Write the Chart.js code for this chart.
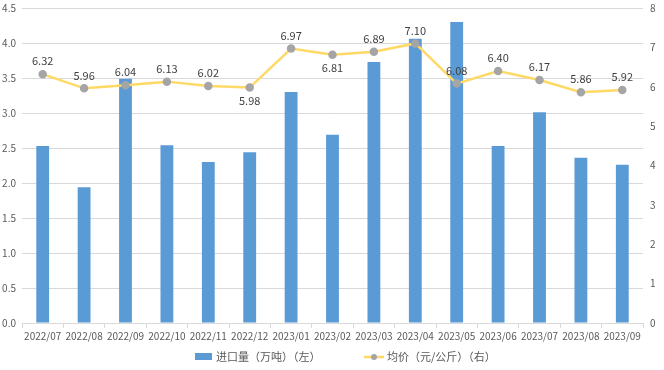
<!DOCTYPE html>
<html>
<head>
<meta charset="utf-8">
<script src="https://cdn.jsdelivr.net/npm/chart.js@4"></script>
<style>
  html, body { margin: 0; padding: 0; background: #fff; }
  #box { width: 664px; height: 370px; }
</style>
</head>
<body>
<div id="box"><canvas id="tu" width="664" height="370"></canvas></div>
<script>
// --- Veriler ---
const aylar = ["2022/07", "2022/08", "2022/09", "2022/10", "2022/11", "2022/12", "2023/01", "2023/02",
  "2023/03", "2023/04", "2023/05", "2023/06", "2023/07", "2023/08", "2023/09"];
const ithalat = [2.53, 1.94, 3.49, 2.54, 2.30, 2.44, 3.30, 2.69, 3.73, 4.06, 4.30, 2.53, 3.01, 2.36, 2.26];
const fiyat = [6.32, 5.96, 6.04, 6.13, 6.02, 5.98, 6.97, 6.81, 6.89, 7.10, 6.08, 6.40, 6.17, 5.86, 5.92];
const solTikler = [0, 0.5, 1, 1.5, 2, 2.5, 3, 3.5, 4, 4.5];
const sagTikler = [0, 1, 2, 3, 4, 5, 6, 7, 8];
const seriAdlari = ["进口量（万吨）（左）", "均价（元/公斤）（右）"];

// etiketleri noktanin altina yazilacak olanlar
const altaYaz = [5, 7];

const mavi = "#5B9BD5";
const sari = "#FFD966";
const gri = "#A5A5A5";
const yazi = "#595959";
const font = "'Noto Sans CJK SC', 'Microsoft YaHei', sans-serif";

// --- Etiket + lejant eklentisi ---
const etiketler = {
  id: "etiketler",
  afterDatasetsDraw(chart) {
    const ctx = chart.ctx;
    const meta = chart.getDatasetMeta(1);
    ctx.save();
    ctx.font = "11px " + font;
    ctx.fillStyle = "#404040";
    ctx.textAlign = "center";
    ctx.textBaseline = "middle";
    meta.data.forEach((p, i) => {
      const dy = altaYaz.includes(i) ? 13 : -13;
      ctx.fillText(fiyat[i].toFixed(2), p.x, p.y + dy);
    });
    ctx.restore();
  },
  afterDraw(chart) {
    const ctx = chart.ctx;
    const y = 357;
    ctx.save();
    ctx.font = "11px " + font;
    ctx.textBaseline = "middle";
    // bar
    ctx.fillStyle = mavi;
    ctx.fillRect(195, y - 4, 17, 7);
    ctx.fillStyle = yazi;
    ctx.fillText(seriAdlari[0], 216, y);
    // line
    ctx.strokeStyle = sari;
    ctx.lineWidth = 2.5;
    ctx.beginPath();
    ctx.moveTo(364, y);
    ctx.lineTo(384, y);
    ctx.stroke();
    ctx.fillStyle = gri;
    ctx.beginPath();
    ctx.arc(374, y, 3, 0, Math.PI * 2);
    ctx.fill();
    ctx.fillStyle = yazi;
    ctx.fillText(seriAdlari[1], 387, y);
    ctx.restore();
  }
};

function eksenGenislik(w) {
  return s => { s.width = w; s.paddingTop = 0; s.paddingBottom = 0; };
}

// --- Grafik ---
const ctx = document.getElementById("tu").getContext("2d");
new Chart(ctx, {
  data: {
    labels: aylar,
    datasets: [
      {
        type: "bar",
        label: seriAdlari[0],
        data: ithalat,
        backgroundColor: mavi,
        yAxisID: "y",
        categoryPercentage: 1,
        barPercentage: 0.31,
        order: 1
      },
      {
        type: "line",
        label: seriAdlari[1],
        data: fiyat,
        borderColor: sari,
        borderWidth: 2.5,
        pointBackgroundColor: gri,
        pointBorderColor: gri,
        pointRadius: 3,
        tension: 0,
        yAxisID: "y1",
        order: 0
      }
    ]
  },
  options: {
    responsive: false,
    animation: false,
    layout: { padding: { top: 8, bottom: 27, left: 0, right: 0 } },
    plugins: { legend: { display: false }, tooltip: { enabled: false } },
    scales: {
      x: {
        offset: true,
        grid: { offset: true, drawOnChartArea: false, drawTicks: true, tickLength: 5, color: "#D9D9D9" },
        border: { color: "#D9D9D9" },
        ticks: { color: yazi, font: { family: font, size: 10 }, padding: 2, maxRotation: 0, autoSkip: false },
        afterFit(s) { s.height = 20; s.paddingLeft = 0; s.paddingRight = 0; }
      },
      y: {
        position: "left",
        min: 0, max: 4.5,
        afterBuildTicks(s) { s.ticks = solTikler.map(v => ({ value: v })); },
        grid: { color: "#D9D9D9", drawTicks: false },
        border: { display: false },
        ticks: { color: yazi, font: { family: font, size: 10 }, padding: 6, callback: v => v.toFixed(1) },
        afterFit: eksenGenislik(22)
      },
      y1: {
        position: "right",
        min: 0, max: 8,
        afterBuildTicks(s) { s.ticks = sagTikler.map(v => ({ value: v })); },
        grid: { display: false, drawTicks: false },
        border: { display: false },
        ticks: { color: yazi, font: { family: font, size: 10 }, padding: 7 },
        afterFit: eksenGenislik(21)
      }
    }
  },
  plugins: [etiketler]
});
</script>
</body>
</html>
